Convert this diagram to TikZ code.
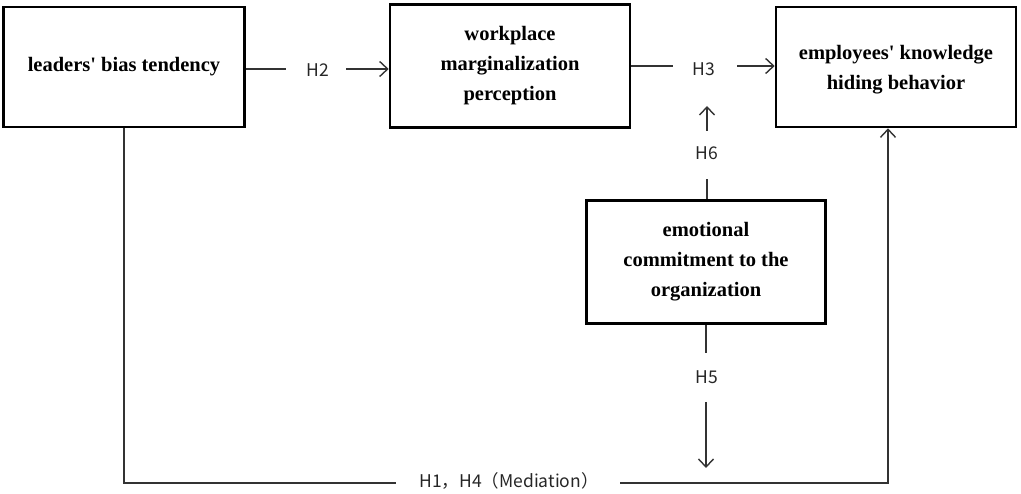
\documentclass[tikz,border=0pt]{standalone}
\usepackage{fontspec}
\setmainfont{Liberation Serif}[Ligatures=TeXOff]
\newfontfamily\lblfont{Noto Sans CJK SC}
\usetikzlibrary{arrows.meta}
\begin{document}
\begin{tikzpicture}[x=1pt,y=-1pt,
  box/.style={draw=black,line width=2.6pt,minimum width=#1,align=center,inner sep=0pt,
    font=\fontsize{20.5}{30}\selectfont\bfseries},
  box/.default=240pt,
  lbl/.style={font=\lblfont\fontsize{17.5}{19}\selectfont,text=black!85,inner sep=0pt},
  conn/.style={draw=black!80,line width=1.4pt},
  arr/.style={conn,-{Straight Barb[length=8pt,width=15pt,line width=1.4pt]}}]
\useasboundingbox (0,0) rectangle (1021,494);
\node[box=241pt,minimum height=120pt] (lead) at (124,67) {leaders' bias tendency};
\node[box=240pt,minimum height=123pt] (work) at (510,66) {workplace\\marginalization\\perception};
\node[box=240pt,minimum height=120pt] (emp) at (896,67) {};
\node[font=\fontsize{20.5}{30}\selectfont\bfseries,align=center,inner sep=0pt] (emptxt) at (896,70) {employees' knowledge\\hiding behavior};
\node[box=239pt,minimum height=123pt] (emo) at (706,262) {emotional\\commitment to the\\organization};
% H2
\node[lbl] (h2) at (318,70) {H2};
\coordinate (h2s) at (286,69);
\coordinate (h2a) at (346,69);
\draw[conn] (lead.east |- h2s) -- (h2s);
\draw[arr] (h2a) -- (work.west |- h2a);
% H3
\node[lbl] (h3) at (704,69) {H3};
\coordinate (h3s) at (673,66);
\coordinate (h3a) at (737,66);
\draw[conn] (work.east |- h3s) -- (h3s);
\draw[arr] (h3a) -- (emp.west |- h3a);
% H6
\node[lbl] (h6) at (707,153) {H6};
\coordinate (h6s) at (707,179);
\coordinate (h6a) at (707,131);
\coordinate (h6e) at (707,106);
\draw[conn] (emo.north -| h6s) -- (h6s);
\draw[arr] (h6a) -- (h6e);
% H5
\node[lbl] (h5) at (707,377) {H5};
\coordinate (h5s) at (706,353);
\coordinate (h5a) at (706,402);
\coordinate (h5e) at (706,468);
\draw[conn] (emo.south -| h5s) -- (h5s);
\draw[arr] (h5a) -- (h5e);
% H1, H4
\node[lbl] (h1) at (509,481) {H1，H4（Mediation）};
\coordinate (c1) at (124,483);
\coordinate (c2) at (396,483);
\coordinate (c3) at (620,483);
\coordinate (c4) at (888,483);
\draw[conn] (lead.south -| c1) -- (c1) -- (c2);
\draw[arr] (c3) -- (c4) -- (emp.south -| c4);
\end{tikzpicture}
\end{document}
